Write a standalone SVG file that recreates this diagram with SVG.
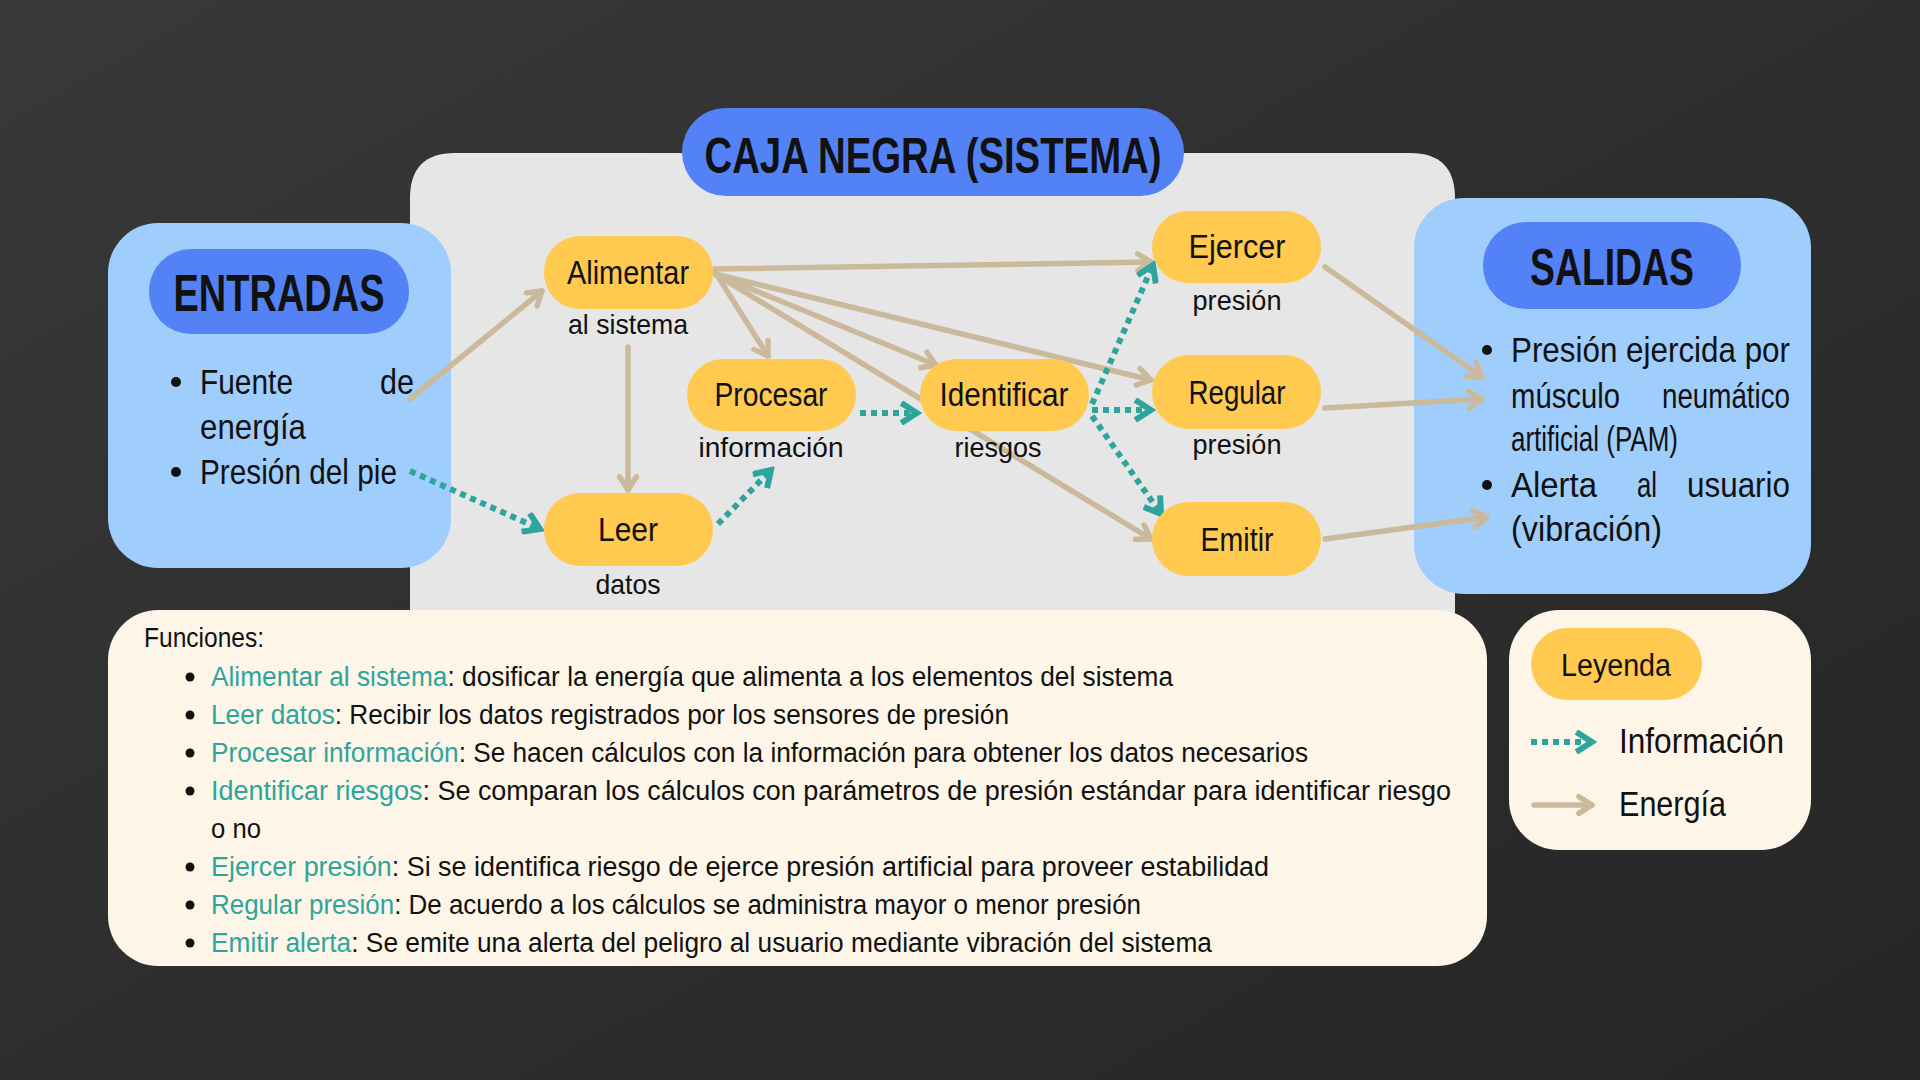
<svg xmlns="http://www.w3.org/2000/svg" width="1920" height="1080" viewBox="0 0 1920 1080">
<style>
.t{font-family:"Liberation Sans Narrow","Liberation Sans",Arial,sans-serif;fill:#111;}
.tb{font-family:"Liberation Sans Narrow","Liberation Sans",Arial,sans-serif;font-weight:bold;fill:#111;}
.node{fill:#ffca4f;}
.pill{fill:#5282f5;}
.en{fill:none;stroke:#cbb99c;stroke-width:5.5;stroke-linecap:round;marker-end:url(#ahTan);}
.inf{fill:none;stroke:#2ea59c;stroke-width:6;stroke-dasharray:6 5;marker-end:url(#ahTeal);}
.teal{fill:#2ea59c;}
.nl{font-size:34px;text-anchor:middle;}
.sl{font-size:28px;text-anchor:middle;}
.bl{font-size:35px;}
.fl{font-size:27px;}
</style>
<defs>
<linearGradient id="bg" x1="0" y1="0" x2="1" y2="1">
<stop offset="0" stop-color="#393939"/>
<stop offset="0.5" stop-color="#2e2e2e"/>
<stop offset="1" stop-color="#262626"/>
</linearGradient>
<marker id="ahTan" viewBox="0 0 20 20" markerWidth="24" markerHeight="24" refX="16" refY="10" orient="auto" markerUnits="userSpaceOnUse">
<path d="M5,3 L16,10 L5,17" fill="none" stroke="#cbb99c" stroke-width="4.5" stroke-linecap="round" stroke-linejoin="round"/>
</marker>
<marker id="ahTeal" viewBox="0 0 20 20" markerWidth="24" markerHeight="24" refX="16" refY="10" orient="auto" markerUnits="userSpaceOnUse">
<path d="M5,3 L16,10 L5,17" fill="none" stroke="#2ea59c" stroke-width="5" stroke-linecap="square" stroke-linejoin="miter"/>
</marker>
</defs>
<rect width="1920" height="1080" fill="url(#bg)"/>

<g id="caja-negra">
<path d="M410,620 L410,198 Q410,153 455,153 L1410,153 Q1455,153 1455,198 L1455,620 Z" fill="#e6e6e6"/>
<rect x="682" y="108" width="502" height="88" rx="44" class="pill"/>
<text x="933" y="173" class="tb" font-size="50" text-anchor="middle" textLength="457" lengthAdjust="spacingAndGlyphs">CAJA NEGRA (SISTEMA)</text>
</g>

<g id="entradas">
<rect x="108" y="223" width="343" height="345" rx="50" fill="#9fcdfc"/>
<rect x="149" y="249" width="260" height="85" rx="42" class="pill"/>
<text x="279" y="311" class="tb" font-size="52" text-anchor="middle" textLength="211" lengthAdjust="spacingAndGlyphs">ENTRADAS</text>
<circle cx="176" cy="382" r="5" fill="#111"/>
<text x="200" y="394" class="t bl" textLength="93" lengthAdjust="spacingAndGlyphs">Fuente</text>
<text x="414" y="394" class="t bl" text-anchor="end" textLength="34" lengthAdjust="spacingAndGlyphs">de</text>
<text x="200" y="439" class="t bl" textLength="106" lengthAdjust="spacingAndGlyphs">energía</text>
<circle cx="176" cy="472" r="5" fill="#111"/>
<text x="200" y="484" class="t bl" textLength="197" lengthAdjust="spacingAndGlyphs">Presión del pie</text>
</g>

<g id="salidas">
<rect x="1414" y="198" width="397" height="396" rx="50" fill="#9fcdfc"/>
<rect x="1483" y="222" width="258" height="87" rx="43" class="pill"/>
<text x="1612" y="285" class="tb" font-size="52" text-anchor="middle" textLength="164" lengthAdjust="spacingAndGlyphs">SALIDAS</text>
<circle cx="1487" cy="350" r="5" fill="#111"/>
<text x="1511" y="362" class="t bl" textLength="279" lengthAdjust="spacingAndGlyphs">Presión ejercida por</text>
<text x="1511" y="408" class="t bl" textLength="109" lengthAdjust="spacingAndGlyphs">músculo</text>
<text x="1790" y="408" class="t bl" text-anchor="end" textLength="128" lengthAdjust="spacingAndGlyphs">neumático</text>
<text x="1511" y="451" class="t bl" textLength="167" lengthAdjust="spacingAndGlyphs">artificial (PAM)</text>
<circle cx="1487" cy="485" r="5" fill="#111"/>
<text x="1511" y="497" class="t bl" textLength="86" lengthAdjust="spacingAndGlyphs">Alerta</text>
<text x="1637" y="497" class="t bl" textLength="20" lengthAdjust="spacingAndGlyphs">al</text>
<text x="1790" y="497" class="t bl" text-anchor="end" textLength="103" lengthAdjust="spacingAndGlyphs">usuario</text>
<text x="1511" y="541" class="t bl" textLength="151" lengthAdjust="spacingAndGlyphs">(vibración)</text>
</g>

<g id="connectors">
<line class="en" x1="410" y1="399" x2="542" y2="291"/>
<line class="en" x1="715" y1="269" x2="1151" y2="262"/>
<line class="en" x1="715" y1="272" x2="768" y2="356"/>
<line class="en" x1="715" y1="274" x2="936" y2="365"/>
<line class="en" x1="715" y1="274" x2="1151" y2="380"/>
<line class="en" x1="715" y1="274" x2="1151" y2="539"/>
<line class="en" x1="628" y1="347" x2="628" y2="490"/>
<line class="en" x1="1325" y1="267" x2="1482" y2="377"/>
<line class="en" x1="1325" y1="408" x2="1482" y2="399"/>
<line class="en" x1="1325" y1="539" x2="1487" y2="517"/>
<line class="inf" x1="410" y1="471" x2="540" y2="529"/>
<line class="inf" x1="718" y1="524" x2="771" y2="470"/>
<line class="inf" x1="860" y1="413" x2="917" y2="413"/>
<line class="inf" x1="1092" y1="404" x2="1153" y2="265"/>
<line class="inf" x1="1092" y1="410" x2="1151" y2="410"/>
<line class="inf" x1="1092" y1="416" x2="1161" y2="514"/>
</g>

<g id="alimentar">
<rect x="544" y="236" width="169" height="73" rx="36" class="node"/>
<text x="628" y="284" class="t nl" textLength="122" lengthAdjust="spacingAndGlyphs">Alimentar</text>
<text x="628" y="334" class="t sl" textLength="120" lengthAdjust="spacingAndGlyphs">al sistema</text>
</g>
<g id="procesar">
<rect x="687" y="359" width="169" height="72" rx="36" class="node"/>
<text x="771" y="406" class="t nl" textLength="113" lengthAdjust="spacingAndGlyphs">Procesar</text>
<text x="771" y="457" class="t sl" textLength="145" lengthAdjust="spacingAndGlyphs">información</text>
</g>
<g id="leer">
<rect x="544" y="493" width="169" height="73" rx="36" class="node"/>
<text x="628" y="541" class="t nl" textLength="60" lengthAdjust="spacingAndGlyphs">Leer</text>
<text x="628" y="594" class="t sl" textLength="65" lengthAdjust="spacingAndGlyphs">datos</text>
</g>
<g id="identificar">
<rect x="920" y="359" width="169" height="72" rx="36" class="node"/>
<text x="1004" y="406" class="t nl" textLength="129" lengthAdjust="spacingAndGlyphs">Identificar</text>
<text x="998" y="457" class="t sl" textLength="87" lengthAdjust="spacingAndGlyphs">riesgos</text>
</g>
<g id="ejercer">
<rect x="1152" y="211" width="169" height="72" rx="36" class="node"/>
<text x="1237" y="258" class="t nl" textLength="97" lengthAdjust="spacingAndGlyphs">Ejercer</text>
<text x="1237" y="310" class="t sl" textLength="89" lengthAdjust="spacingAndGlyphs">presión</text>
</g>
<g id="regular">
<rect x="1152" y="355" width="169" height="74" rx="37" class="node"/>
<text x="1237" y="404" class="t nl" textLength="97" lengthAdjust="spacingAndGlyphs">Regular</text>
<text x="1237" y="454" class="t sl" textLength="89" lengthAdjust="spacingAndGlyphs">presión</text>
</g>
<g id="emitir">
<rect x="1152" y="502" width="169" height="74" rx="37" class="node"/>
<text x="1237" y="551" class="t nl" textLength="73" lengthAdjust="spacingAndGlyphs">Emitir</text>
</g>

<g id="funciones">
<rect x="108" y="610" width="1379" height="356" rx="50" fill="#fdf6e8"/>
<text x="144" y="647" class="t fl" textLength="120" lengthAdjust="spacingAndGlyphs">Funciones:</text>
<circle cx="190" cy="677" r="4.5" fill="#111"/>
<text x="211" y="686" class="t fl" textLength="962" lengthAdjust="spacingAndGlyphs"><tspan class="teal">Alimentar al sistema</tspan>: dosificar la energía que alimenta a los elementos del sistema</text>
<circle cx="190" cy="715" r="4.5" fill="#111"/>
<text x="211" y="724" class="t fl" textLength="798" lengthAdjust="spacingAndGlyphs"><tspan class="teal">Leer datos</tspan>: Recibir los datos registrados por los sensores de presión</text>
<circle cx="190" cy="753" r="4.5" fill="#111"/>
<text x="211" y="762" class="t fl" textLength="1097" lengthAdjust="spacingAndGlyphs"><tspan class="teal">Procesar información</tspan>: Se hacen cálculos con la información para obtener los datos necesarios</text>
<circle cx="190" cy="791" r="4.5" fill="#111"/>
<text x="211" y="800" class="t fl" textLength="1240" lengthAdjust="spacingAndGlyphs"><tspan class="teal">Identificar riesgos</tspan>: Se comparan los cálculos con parámetros de presión estándar para identificar riesgo</text>
<text x="211" y="838" class="t fl" textLength="50" lengthAdjust="spacingAndGlyphs">o no</text>
<circle cx="190" cy="867" r="4.5" fill="#111"/>
<text x="211" y="876" class="t fl" textLength="1058" lengthAdjust="spacingAndGlyphs"><tspan class="teal">Ejercer presión</tspan>: Si se identifica riesgo de ejerce presión artificial para proveer estabilidad</text>
<circle cx="190" cy="905" r="4.5" fill="#111"/>
<text x="211" y="914" class="t fl" textLength="930" lengthAdjust="spacingAndGlyphs"><tspan class="teal">Regular presión</tspan>: De acuerdo a los cálculos se administra mayor o menor presión</text>
<circle cx="190" cy="943" r="4.5" fill="#111"/>
<text x="211" y="952" class="t fl" textLength="1001" lengthAdjust="spacingAndGlyphs"><tspan class="teal">Emitir alerta</tspan>: Se emite una alerta del peligro al usuario mediante vibración del sistema</text>
</g>

<g id="leyenda">
<rect x="1509" y="610" width="302" height="240" rx="50" fill="#fdf6e8"/>
<rect x="1531" y="628" width="171" height="72" rx="36" class="node"/>
<text x="1616" y="676" class="t" font-size="31" text-anchor="middle" textLength="110" lengthAdjust="spacingAndGlyphs">Leyenda</text>
<line class="inf" x1="1531" y1="742" x2="1592" y2="742"/>
<text x="1619" y="753" class="t" font-size="35" textLength="165" lengthAdjust="spacingAndGlyphs">Información</text>
<line class="en" x1="1534" y1="805" x2="1592" y2="805"/>
<text x="1619" y="816" class="t" font-size="35" textLength="107" lengthAdjust="spacingAndGlyphs">Energía</text>
</g>
</svg>
